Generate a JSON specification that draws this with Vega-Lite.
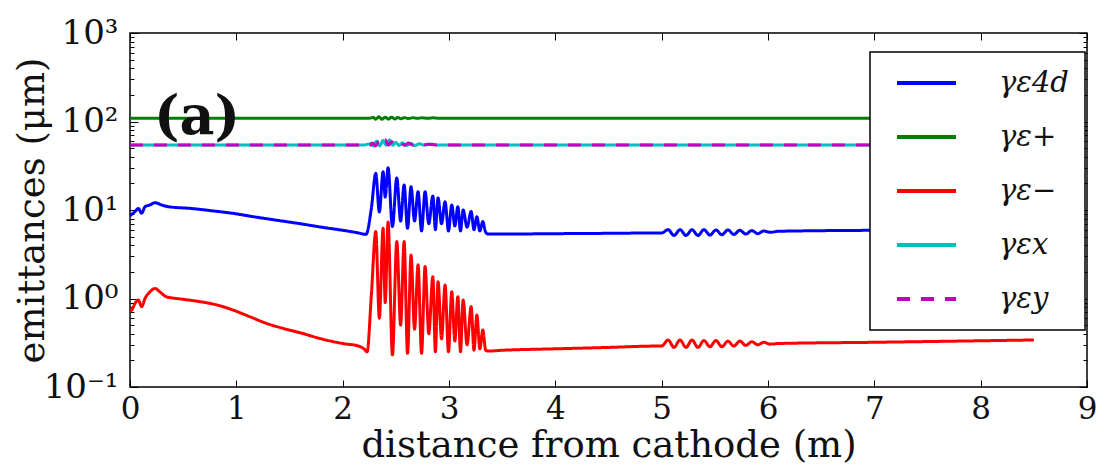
{
 "$schema": "https://vega.github.io/schema/vega-lite/v6.json",
 "width": 957, "height": 354,
 "autosize": {"type": "none"},
 "padding": {"left": 130, "top": 33, "right": 21, "bottom": 81},
 "background": "white",
 "config": {
  "view": {"stroke": "black", "strokeWidth": 1.5},
  "font": "DejaVu Serif",
  "axis": {"grid": false, "domain": false, "tickColor": "black", "tickWidth": 1, "labelColor": "#111111", "titleColor": "#111111", "labelFont": "DejaVu Serif", "titleFont": "DejaVu Serif", "titleFontWeight": "normal", "labelOverlap": false, "labelFlush": false, "labelBound": false},
  "legend": {"orient": "none", "legendX": 740, "legendY": 19, "strokeColor": "black", "strokeWidth": 1.5, "fillColor": "white", "cornerRadius": 0, "padding": 16, "symbolType": "M-0.766,0H0.766", "symbolSize": 5929, "symbolStrokeWidth": 4, "clipHeight": 30, "rowPadding": 24, "labelOffset": 32, "labelFont": "DejaVu Serif", "labelFontSize": 29, "labelFontStyle": "italic", "labelColor": "#111111", "title": null}
 },
 "datasets": {
  "lines": [
   {"s":"γε4d","x":0,"v":8.6},{"s":"γε4d","x":0.01,"v":8.8},{"s":"γε4d","x":0.047,"v":9.6},{"s":"γε4d","x":0.078,"v":10.4},{"s":"γε4d","x":0.11,"v":9.2},{"s":"γε4d","x":0.141,"v":10.9},{"s":"γε4d","x":0.188,"v":11.4},{"s":"γε4d","x":0.235,"v":12.1},{"s":"γε4d","x":0.298,"v":11.4},{"s":"γε4d","x":0.36,"v":10.9},{"s":"γε4d","x":0.58,"v":10.4},{"s":"γε4d","x":0.77,"v":9.8},{"s":"γε4d","x":0.96,"v":9.2},{"s":"γε4d","x":1.16,"v":8.4},{"s":"γε4d","x":1.4,"v":7.6},{"s":"γε4d","x":1.6,"v":7.0},{"s":"γε4d","x":1.8,"v":6.4},{"s":"γε4d","x":2.0,"v":5.9},{"s":"γε4d","x":2.15,"v":5.5},{"s":"γε4d","x":2.22,"v":5.3},{"s":"γε4d","x":2.27,"v":10.5},{"s":"γε4d","x":2.311,"v":26},{"s":"γε4d","x":2.345,"v":9.5},{"s":"γε4d","x":2.38,"v":27},{"s":"γε4d","x":2.4,"v":14},{"s":"γε4d","x":2.427,"v":30},{"s":"γε4d","x":2.468,"v":6.5},{"s":"γε4d","x":2.509,"v":23},{"s":"γε4d","x":2.545,"v":7.5},{"s":"γε4d","x":2.578,"v":19.2},{"s":"γε4d","x":2.61,"v":6.2},{"s":"γε4d","x":2.643,"v":18.3},{"s":"γε4d","x":2.676,"v":7.5},{"s":"γε4d","x":2.709,"v":16.1},{"s":"γε4d","x":2.742,"v":5.8},{"s":"γε4d","x":2.775,"v":16.1},{"s":"γε4d","x":2.81,"v":7.0},{"s":"γε4d","x":2.848,"v":14.4},{"s":"γε4d","x":2.872,"v":6.0},{"s":"γε4d","x":2.897,"v":13.7},{"s":"γε4d","x":2.93,"v":7.0},{"s":"γε4d","x":2.963,"v":12.4},{"s":"γε4d","x":2.995,"v":5.8},{"s":"γε4d","x":3.026,"v":11.4},{"s":"γε4d","x":3.055,"v":6.6},{"s":"γε4d","x":3.083,"v":10.9},{"s":"γε4d","x":3.108,"v":5.8},{"s":"γε4d","x":3.133,"v":10.0},{"s":"γε4d","x":3.17,"v":6.4},{"s":"γε4d","x":3.208,"v":9.6},{"s":"γε4d","x":3.235,"v":6.0},{"s":"γε4d","x":3.262,"v":8.4},{"s":"γε4d","x":3.29,"v":5.8},{"s":"γε4d","x":3.318,"v":7.4},{"s":"γε4d","x":3.345,"v":5.6},{"s":"γε4d","x":3.37,"v":5.35},{"s":"γε4d","x":3.5,"v":5.35},{"s":"γε4d","x":4.0,"v":5.4},{"s":"γε4d","x":4.5,"v":5.45},{"s":"γε4d","x":4.95,"v":5.5},{"s":"γε4d","x":5.0,"v":5.5},{"s":"γε4d","x":5.06,"v":6.0},{"s":"γε4d","x":5.116,"v":5.15},{"s":"γε4d","x":5.1725,"v":6.0},{"s":"γε4d","x":5.229,"v":5.15},{"s":"γε4d","x":5.285,"v":6.0},{"s":"γε4d","x":5.341,"v":5.15},{"s":"γε4d","x":5.3975,"v":6.0},{"s":"γε4d","x":5.454,"v":5.2},{"s":"γε4d","x":5.51,"v":5.95},{"s":"γε4d","x":5.566,"v":5.25},{"s":"γε4d","x":5.6225,"v":5.95},{"s":"γε4d","x":5.679,"v":5.3},{"s":"γε4d","x":5.735,"v":5.9},{"s":"γε4d","x":5.791,"v":5.35},{"s":"γε4d","x":5.8475,"v":5.85},{"s":"γε4d","x":5.904,"v":5.4},{"s":"γε4d","x":5.96,"v":5.8},{"s":"γε4d","x":6.02,"v":5.6},{"s":"γε4d","x":6.1,"v":5.75},{"s":"γε4d","x":7.0,"v":5.9},{"s":"γε4d","x":8.5,"v":6.0},
   {"s":"γε+","x":0,"v":109},{"s":"γε+","x":2.25,"v":109},{"s":"γε+","x":2.29,"v":111},{"s":"γε+","x":2.31,"v":106},{"s":"γε+","x":2.34,"v":113},{"s":"γε+","x":2.37,"v":106},{"s":"γε+","x":2.4,"v":112},{"s":"γε+","x":2.43,"v":106.5},{"s":"γε+","x":2.46,"v":112},{"s":"γε+","x":2.49,"v":107},{"s":"γε+","x":2.52,"v":111},{"s":"γε+","x":2.55,"v":107.5},{"s":"γε+","x":2.58,"v":110.5},{"s":"γε+","x":2.62,"v":108},{"s":"γε+","x":2.66,"v":110.5},{"s":"γε+","x":2.7,"v":108.5},{"s":"γε+","x":2.75,"v":110},{"s":"γε+","x":2.8,"v":108.5},{"s":"γε+","x":2.85,"v":110},{"s":"γε+","x":2.9,"v":109},{"s":"γε+","x":8.5,"v":109},
   {"s":"γε−","x":0,"v":0.72},{"s":"γε−","x":0.016,"v":0.74},{"s":"γε−","x":0.047,"v":0.88},{"s":"γε−","x":0.078,"v":0.96},{"s":"γε−","x":0.11,"v":0.81},{"s":"γε−","x":0.141,"v":1.0},{"s":"γε−","x":0.188,"v":1.19},{"s":"γε−","x":0.235,"v":1.3},{"s":"γε−","x":0.28,"v":1.19},{"s":"γε−","x":0.34,"v":1.05},{"s":"γε−","x":0.5,"v":0.98},{"s":"γε−","x":0.66,"v":0.92},{"s":"γε−","x":0.81,"v":0.85},{"s":"γε−","x":0.97,"v":0.74},{"s":"γε−","x":1.13,"v":0.62},{"s":"γε−","x":1.29,"v":0.52},{"s":"γε−","x":1.44,"v":0.46},{"s":"γε−","x":1.6,"v":0.41},{"s":"γε−","x":1.8,"v":0.35},{"s":"γε−","x":2.0,"v":0.31},{"s":"γε−","x":2.15,"v":0.29},{"s":"γε−","x":2.2,"v":0.27},{"s":"γε−","x":2.23,"v":0.25},{"s":"γε−","x":2.27,"v":1.1},{"s":"γε−","x":2.311,"v":5.7},{"s":"γε−","x":2.345,"v":0.6},{"s":"γε−","x":2.38,"v":6.2},{"s":"γε−","x":2.4,"v":0.9},{"s":"γε−","x":2.427,"v":7.3},{"s":"γε−","x":2.468,"v":0.23},{"s":"γε−","x":2.509,"v":4.4},{"s":"γε−","x":2.545,"v":0.5},{"s":"γε−","x":2.578,"v":4.4},{"s":"γε−","x":2.61,"v":0.24},{"s":"γε−","x":2.643,"v":3.1},{"s":"γε−","x":2.676,"v":0.45},{"s":"γε−","x":2.709,"v":2.4},{"s":"γε−","x":2.742,"v":0.24},{"s":"γε−","x":2.775,"v":2.3},{"s":"γε−","x":2.81,"v":0.4},{"s":"γε−","x":2.848,"v":1.76},{"s":"γε−","x":2.872,"v":0.25},{"s":"γε−","x":2.897,"v":1.55},{"s":"γε−","x":2.93,"v":0.35},{"s":"γε−","x":2.963,"v":1.42},{"s":"γε−","x":2.995,"v":0.25},{"s":"γε−","x":3.026,"v":1.19},{"s":"γε−","x":3.055,"v":0.33},{"s":"γε−","x":3.083,"v":1.05},{"s":"γε−","x":3.108,"v":0.25},{"s":"γε−","x":3.133,"v":0.96},{"s":"γε−","x":3.17,"v":0.3},{"s":"γε−","x":3.208,"v":0.81},{"s":"γε−","x":3.235,"v":0.26},{"s":"γε−","x":3.262,"v":0.65},{"s":"γε−","x":3.29,"v":0.27},{"s":"γε−","x":3.318,"v":0.44},{"s":"γε−","x":3.345,"v":0.26},{"s":"γε−","x":3.37,"v":0.255},{"s":"γε−","x":3.5,"v":0.26},{"s":"γε−","x":4.0,"v":0.27},{"s":"γε−","x":4.5,"v":0.28},{"s":"γε−","x":4.95,"v":0.29},{"s":"γε−","x":5.0,"v":0.29},{"s":"γε−","x":5.06,"v":0.34},{"s":"γε−","x":5.116,"v":0.28},{"s":"γε−","x":5.1725,"v":0.34},{"s":"γε−","x":5.229,"v":0.28},{"s":"γε−","x":5.285,"v":0.34},{"s":"γε−","x":5.341,"v":0.28},{"s":"γε−","x":5.3975,"v":0.335},{"s":"γε−","x":5.454,"v":0.285},{"s":"γε−","x":5.51,"v":0.335},{"s":"γε−","x":5.566,"v":0.285},{"s":"γε−","x":5.6225,"v":0.33},{"s":"γε−","x":5.679,"v":0.29},{"s":"γε−","x":5.735,"v":0.33},{"s":"γε−","x":5.791,"v":0.295},{"s":"γε−","x":5.8475,"v":0.325},{"s":"γε−","x":5.904,"v":0.3},{"s":"γε−","x":5.96,"v":0.32},{"s":"γε−","x":6.02,"v":0.305},{"s":"γε−","x":6.1,"v":0.31},{"s":"γε−","x":7.0,"v":0.32},{"s":"γε−","x":8.5,"v":0.34},
   {"s":"γεx","x":0,"v":54.3},{"s":"γεx","x":2.2,"v":54.3},{"s":"γεx","x":2.26,"v":56},{"s":"γεx","x":2.29,"v":53},{"s":"γεx","x":2.32,"v":60},{"s":"γεx","x":2.35,"v":53},{"s":"γεx","x":2.38,"v":61},{"s":"γεx","x":2.41,"v":54},{"s":"γεx","x":2.44,"v":62},{"s":"γεx","x":2.47,"v":54},{"s":"γεx","x":2.5,"v":58},{"s":"γεx","x":2.53,"v":53.5},{"s":"γεx","x":2.56,"v":57.5},{"s":"γεx","x":2.6,"v":53.5},{"s":"γεx","x":2.64,"v":56.5},{"s":"γεx","x":2.68,"v":53.5},{"s":"γεx","x":2.72,"v":56},{"s":"γεx","x":2.77,"v":54},{"s":"γεx","x":2.82,"v":55.5},{"s":"γεx","x":2.9,"v":54.3},{"s":"γεx","x":8.5,"v":54.3},
   {"s":"γεy","x":0,"v":54.3},{"s":"γεy","x":2.2,"v":54.3},{"s":"γεy","x":2.25,"v":53},{"s":"γεy","x":2.28,"v":57},{"s":"γεy","x":2.31,"v":53},{"s":"γεy","x":2.34,"v":59},{"s":"γεy","x":2.37,"v":54},{"s":"γεy","x":2.4,"v":62},{"s":"γεy","x":2.43,"v":54},{"s":"γεy","x":2.46,"v":59},{"s":"γεy","x":2.5,"v":54},{"s":"γεy","x":2.54,"v":58},{"s":"γεy","x":2.58,"v":54},{"s":"γεy","x":2.62,"v":57},{"s":"γεy","x":2.66,"v":54},{"s":"γεy","x":2.7,"v":56},{"s":"γεy","x":2.75,"v":54},{"s":"γεy","x":2.8,"v":55.5},{"s":"γεy","x":2.88,"v":54.3},{"s":"γεy","x":8.5,"v":54.3}
  ]
 },
 "layer": [
  {
   "data": {"name": "lines"},
   "mark": {"type": "line", "strokeWidth": 3, "interpolate": "monotone"},
   "encoding": {
    "x": {"field": "x", "type": "quantitative", "scale": {"domain": [0, 9], "nice": false, "zero": false},
     "axis": {"orient": "bottom", "values": [0,1,2,3,4,5,6,7,8,9], "tickSize": -7, "labelFontSize": 31, "labelPadding": 14, "title": "distance from cathode (m)", "titleFontSize": 37, "titleBaseline": "top", "titleY": 40}},
    "y": {"field": "v", "type": "quantitative", "scale": {"type": "log", "domain": [0.1, 1000], "nice": false},
     "axis": {"orient": "left", "values": [0.1,0.2,0.3,0.4,0.5,0.6,0.7,0.8,0.9,1,2,3,4,5,6,7,8,9,10,20,30,40,50,60,70,80,90,100,200,300,400,500,600,700,800,900,1000],
      "tickSize": {"condition": {"test": "datum.value == 1000 || datum.value == 100 || datum.value == 10 || datum.value == 1 || datum.value == 0.1", "value": -8}, "value": -4},
      "labelExpr": "datum.value == 1000 ? '10³' : datum.value == 100 ? '10²' : datum.value == 10 ? '10¹' : datum.value == 1 ? '10⁰' : datum.value == 0.1 ? '10⁻¹' : ''",
      "labelFontSize": 34, "labelPadding": 20, "title": "emittances (μm)", "titleFontSize": 37, "titlePadding": -8}},
    "color": {"field": "s", "type": "nominal", "scale": {"domain": ["γε4d","γε+","γε−","γεx","γεy"], "range": ["#0000ff","#008000","#ff0000","#00bfbf","#bf00bf"]}, "legend": {"title": null}},
    "strokeDash": {"field": "s", "type": "nominal", "scale": {"domain": ["γε4d","γε+","γε−","γεx","γεy"], "range": [[1,0],[1,0],[1,0],[1,0],[13,11]]}, "legend": {"title": null}}
   }
  },
  {
   "data": {"values": [{}]},
   "mark": {"type": "text", "text": "(a)", "font": "DejaVu Serif", "fontSize": 54, "fontWeight": "bold", "align": "center", "baseline": "middle", "color": "#111111"},
   "encoding": {
    "x": {"datum": 0.63, "type": "quantitative", "axis": {"orient": "top", "values": [0,1,2,3,4,5,6,7,8,9], "tickSize": -7, "labels": false, "title": null}},
    "y": {"datum": 110, "type": "quantitative", "axis": {"orient": "right", "values": [0.1,0.2,0.3,0.4,0.5,0.6,0.7,0.8,0.9,1,2,3,4,5,6,7,8,9,10,20,30,40,50,60,70,80,90,100,200,300,400,500,600,700,800,900,1000],
      "tickSize": {"condition": {"test": "datum.value == 1000 || datum.value == 100 || datum.value == 10 || datum.value == 1 || datum.value == 0.1", "value": -8}, "value": -4}, "labels": false, "title": null}}
   }
  }
 ],
 "resolve": {"axis": {"x": "independent", "y": "independent"}}
}
